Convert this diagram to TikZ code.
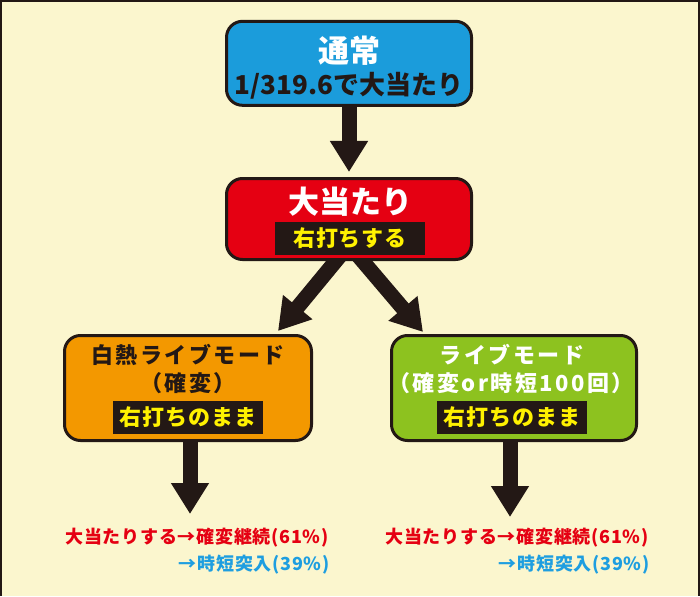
\documentclass[tikz,border=0pt]{standalone}
\usepackage{fontspec}
\newfontfamily\jp{Noto Sans CJK JP}
\newfontfamily\jpsp{Noto Sans CJK JP}[LetterSpace=11]
\newfontfamily\jpss{Noto Sans CJK JP}[LetterSpace=4]
\usetikzlibrary{arrows.meta,calc}
\definecolor{bgc}{HTML}{FBF6CE}
\definecolor{dk}{HTML}{231815}
\definecolor{bl}{HTML}{1B9CDB}
\definecolor{rd}{HTML}{E50012}
\definecolor{og}{HTML}{F39800}
\definecolor{gr}{HTML}{8DC21F}
\definecolor{yl}{HTML}{FFF100}
\definecolor{tbl}{HTML}{1E9EE0}
\pgfdeclarelayer{bglayer}
\pgfdeclarelayer{arrlayer}
\pgfsetlayers{bglayer,arrlayer,main}
\tikzset{
  box/.style={draw=dk, line width=3pt, rounded corners=16pt, inner sep=0pt},
  band/.style={fill=dk, text=yl, inner sep=0pt, minimum width=150pt, minimum height=33pt,
    font=\jpss\bfseries\fontsize{22}{22}\selectfont},
  fat/.style={draw=dk, line width=15pt, -{Triangle[width=36pt,length=31pt]}},
  big/.style={inner sep=0pt, font=\jp\bfseries\fontsize{31}{31}\selectfont},
  mid/.style={inner sep=0pt, font=\jpsp\bfseries\fontsize{22}{22}\selectfont},
  sub/.style={inner sep=0pt, font=\jp\bfseries\fontsize{26}{26}\selectfont},
  res/.style={inner sep=0pt, font=\jpss\bfseries\fontsize{18}{18}\selectfont},
}
\begin{document}
\begin{tikzpicture}[x=1pt,y=-1pt]
\useasboundingbox (0,0) rectangle (700,596);
\begin{pgfonlayer}{bglayer}
  \fill[bgc] (0,0) rectangle (700,596);
  \draw[dk, line width=1.6pt] (0.8,596) -- (0.8,0.8) -- (699.2,0.8) -- (699.2,596);
\end{pgfonlayer}
% boxes
\node[box, fill=bl, minimum width=245pt, minimum height=84pt] (top) at (349,63.3) {};
\node[box, fill=rd, minimum width=245pt, minimum height=81pt] (hit) at (349,219) {};
\node[box, fill=og, minimum width=247pt, minimum height=105pt] (hot) at (188,388) {};
\node[box, fill=gr, minimum width=245pt, minimum height=105pt] (live) at (514,388) {};
% texts
\node[big, text=white] (t1) at (349,51) {通常};
\node[sub, text=dk] (t2) at (349,85.5) {1/319.6で大当たり};
\node[big, text=white] (h1) at (350,202) {大当たり};
\node[band] (hb) at (350,238) {右打ちする};
\node[mid, text=dk] (o1) at (188,355) {白熱ライブモード};
\node[mid, text=dk] (o2) at (188,383) {（確変）};
\node[band] (ob) at (188,417) {右打ちのまま};
\node[mid, text=white] (g1) at (512,355) {ライブモード};
\node[mid, text=white] (g2) at (511,383) {（確変or時短100回）};
\node[band] (gb) at (512,417) {右打ちのまま};
% results
\node[res, text=rd] (or1) at (197,538) {大当たりする→確変継続(61\%)};
\node[res, text=tbl, anchor=east] (or2) at ($(or1.east)+(1,27)$) {→時短突入(39\%)};
\node[res, text=rd] (gr1) at (517,538) {大当たりする→確変継続(61\%)};
\node[res, text=tbl, anchor=east] (gr2) at ($(gr1.east)+(1,27)$) {→時短突入(39\%)};
% arrow end points
\coordinate (tipL) at (278,331);
\coordinate (tipR) at (423,332);
\coordinate (tipO) at (190,514);
\coordinate (tipG) at (510,517);
\begin{pgfonlayer}{arrlayer}
  \draw[fat] ($(top.south)+(0,-10)$) -- ($(hit.north)+(0,-5)$);
  \draw[fat] ($(hit.south)+(0,-16)$) -- (tipL);
  \draw[fat] ($(hit.south)+(0,-16)$) -- (tipR);
  \draw[fat] (hot.south -| tipO) ++(0,-10) -- (tipO);
  \draw[fat] (live.south -| tipG) ++(0,-10) -- (tipG);
\end{pgfonlayer}
\end{tikzpicture}
\end{document}
